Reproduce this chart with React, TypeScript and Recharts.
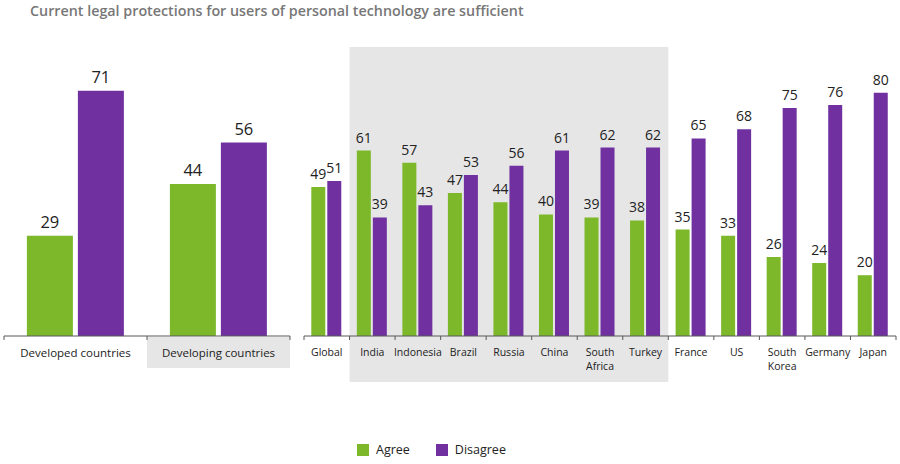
import React from 'react';
import { BarChart, Bar, XAxis, YAxis, LabelList, ReferenceArea, Legend } from 'recharts';

const titleText = 'Current legal protections for users of personal technology are sufficient';

const groupCategories = ['Developed countries', 'Developing countries'];
const groupAgree = [29, 44];
const groupDisagree = [71, 56];
const highlightedGroup = 'Developing countries';

const countryCategories = ['Global', 'India', 'Indonesia', 'Brazil', 'Russia', 'China', 'South Africa', 'Turkey', 'France', 'US', 'South Korea', 'Germany', 'Japan'];
const countryAgree = [49, 61, 57, 47, 44, 40, 39, 38, 35, 33, 26, 24, 20];
const countryDisagree = [51, 39, 43, 53, 56, 61, 62, 62, 65, 68, 75, 76, 80];
const developingFirst = 'India';
const developingLast = 'Turkey';

const seriesNames = ['Agree', 'Disagree'];
const GREEN = '#7cb82a';
const PURPLE = '#7030a0';
const AXIS = '#595959';
const TEXT = '#222222';
const SHADE = '#e6e6e6';

const groupData = groupCategories.map((c, i) => ({ name: c, Agree: groupAgree[i], Disagree: groupDisagree[i] }));
const countryData = countryCategories.map((c, i) => ({ name: c, Agree: countryAgree[i], Disagree: countryDisagree[i] }));

const FONT = '"Open Sans", "Noto Sans", sans-serif';

const GroupTick = (props: any) => {
  const { x, y, payload, index } = props;
  const half = typeof payload.offset === 'number' && payload.offset > 0 ? payload.offset : 71.5;
  const last = index === groupCategories.length - 1;
  return (
    <g>
      {payload.value === highlightedGroup && (
        <rect x={x - half} y={y + 1} width={half * 2} height={31} fill={SHADE} />
      )}
      <line x1={x - half} x2={x - half} y1={y} y2={y + 4} stroke={AXIS} />
      {last && <line x1={x + half} x2={x + half} y1={y} y2={y + 4} stroke={AXIS} />}
      <text x={x} y={y + 21} textAnchor="middle" fontSize={11.5} fill={TEXT}>{payload.value}</text>
    </g>
  );
};

const CountryTick = (props: any) => {
  const { x, y, payload, index } = props;
  const half = typeof payload.offset === 'number' && payload.offset > 0 ? payload.offset : 22.75;
  const last = index === countryCategories.length - 1;
  const label = String(payload.value);
  const lines = label.includes(' ') && label.length > 9 ? label.split(' ') : [label];
  return (
    <g>
      <line x1={x - half} x2={x - half} y1={y} y2={y + 4} stroke={AXIS} />
      {last && <line x1={x + half} x2={x + half} y1={y} y2={y + 4} stroke={AXIS} />}
      <text x={x} y={y + 20} textAnchor="middle" fontSize={10.5} fill={TEXT}>
        {lines.map((l, i) => (
          <tspan key={i} x={x} dy={i === 0 ? 0 : 13.5}>{l}</tspan>
        ))}
      </text>
    </g>
  );
};

const LegendContent = (props: any) => {
  const payload = props.payload || [];
  return (
    <div style={{ display: 'flex', alignItems: 'center', fontFamily: FONT, fontSize: 12.5, color: TEXT }}>
      {payload.map((p: any, i: number) => (
        <div key={i} style={{ display: 'flex', alignItems: 'center', marginRight: 26 }}>
          <span style={{ display: 'inline-block', width: 12, height: 12, background: p.color, marginRight: 7 }} />
          <span>{p.value}</span>
        </div>
      ))}
    </div>
  );
};

export default function App() {
  return (
    <div style={{ position: 'fixed', left: 0, top: 0, width: 900, height: 464, background: '#fff', fontFamily: FONT, overflow: 'hidden' }}>
      <div style={{ position: 'absolute', left: 30, top: 1, fontSize: 14.3, fontWeight: 600, color: '#777777', whiteSpace: 'nowrap' }}>
        {titleText}
      </div>
      <div style={{ position: 'absolute', left: 0, top: 0 }}>
        <BarChart width={300} height={464} data={groupData} margin={{ top: 32, right: 10, bottom: 98, left: 4 }} barCategoryGap="16%" barGap={5}>
          <YAxis hide domain={[0, 88]} />
          <XAxis dataKey="name" height={30} tickSize={0} tickMargin={0} axisLine={{ stroke: AXIS }} tickLine={false} tick={<GroupTick />} interval={0} />
          <Bar dataKey={seriesNames[0]} fill={GREEN} isAnimationActive={false}>
            <LabelList dataKey={seriesNames[0]} position="top" offset={8} fontSize={16.5} fill={TEXT} />
          </Bar>
          <Bar dataKey={seriesNames[1]} fill={PURPLE} isAnimationActive={false}>
            <LabelList dataKey={seriesNames[1]} position="top" offset={8} fontSize={16.5} fill={TEXT} />
          </Bar>
        </BarChart>
      </div>
      <div style={{ position: 'absolute', left: 0, top: 0 }}>
        <BarChart width={900} height={464} data={countryData} margin={{ top: 32, right: 4, bottom: 98, left: 304 }} barCategoryGap="16%" barGap={2}>
          <YAxis hide domain={[0, 100]} />
          <ReferenceArea x1={developingFirst} x2={developingLast} y1={-15.1} y2={95.1} fill={SHADE} fillOpacity={1} stroke="none" ifOverflow="visible" />
          <XAxis dataKey="name" height={30} tickSize={0} tickMargin={0} axisLine={{ stroke: AXIS }} tickLine={false} tick={<CountryTick />} interval={0} />
          <Legend layout="horizontal" verticalAlign="middle" align="center" content={<LegendContent />} wrapperStyle={{ position: 'absolute', left: 357, top: 441, width: 260, height: 14 }} />
          <Bar dataKey={seriesNames[0]} name={seriesNames[0]} fill={GREEN} isAnimationActive={false}>
            <LabelList dataKey={seriesNames[0]} position="top" offset={8} fontSize={14} fill={TEXT} />
          </Bar>
          <Bar dataKey={seriesNames[1]} name={seriesNames[1]} fill={PURPLE} isAnimationActive={false}>
            <LabelList dataKey={seriesNames[1]} position="top" offset={8} fontSize={14} fill={TEXT} />
          </Bar>
        </BarChart>
      </div>
    </div>
  );
}
